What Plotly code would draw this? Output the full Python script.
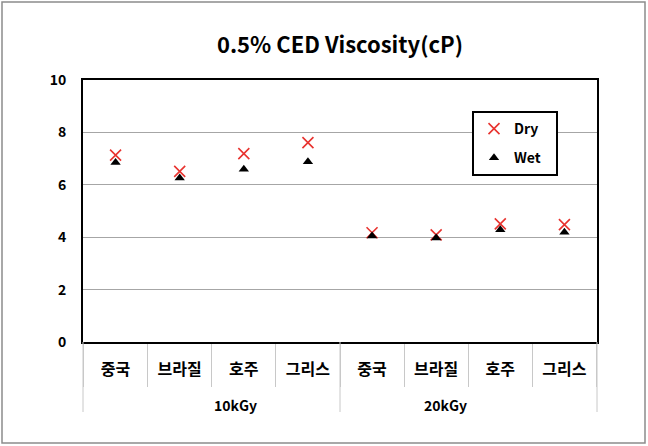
import plotly.graph_objects as go

group_names = ["10kGy", "20kGy"]
origin_names = ["중국", "브라질", "호주", "그리스"]
groups = [g for g in group_names for _ in origin_names]
origins = origin_names * len(group_names)
dry = [7.13, 6.51, 7.19, 7.61, 4.17, 4.09, 4.51, 4.48]
wet = [6.85, 6.26, 6.59, 6.88, 4.05, 3.97, 4.28, 4.19]
y_ticks = [0, 2, 4, 6, 8, 10]

cats = [f"{g}|{o}" for g, o in zip(groups, origins)]

W, H = 648, 446
L, R, T, B = 83, 51, 80, 104
pw, ph = W - L - R, H - T - B

font = "Noto Sans CJK KR"
sep_color = "#C8C8C8"
pad = "&nbsp;" * 3

fig = go.Figure()
fig.add_trace(go.Scatter(
    x=cats, y=dry, mode="markers", name="Dry" + pad, legendgroup="a",
    marker=dict(symbol="x-thin-open", size=11, color="#E8332F",
                line=dict(color="#E8332F", width=1.6)),
))
fig.add_trace(go.Scatter(
    x=cats, y=wet, mode="markers", name="Wet" + pad, legendgroup="b",
    marker=dict(symbol="triangle-up", size=9, color="black"),
))

# outer chart border
fig.add_shape(type="rect", xref="paper", yref="paper",
              x0=(2 - L) / pw, x1=(645 - L) / pw,
              y0=(H - 443 - B) / ph, y1=(H - 2 - B) / ph,
              line=dict(color="#8C8C8C", width=1.5), layer="below")

# group dividers and group labels
n_g = len(group_names)
for i in range(n_g + 1):
    xp = i / n_g
    fig.add_shape(type="line", xref="paper", yref="paper",
                  x0=xp, x1=xp, y0=0, y1=-(412 - (H - B)) / ph,
                  line=dict(color=sep_color, width=1))
for i, g in enumerate(group_names):
    fig.add_annotation(xref="paper", yref="paper", x=(i + 0.5) / n_g,
                       y=-(405 - (H - B)) / ph, yanchor="middle",
                       text=g, showarrow=False,
                       font=dict(size=14, family=font, color="black", weight="bold"))

fig.update_layout(
    width=W, height=H,
    margin=dict(l=L, r=R, t=T, b=B),
    paper_bgcolor="white", plot_bgcolor="white",
    font=dict(family=font, color="black"),
    title=dict(text="0.5% CED Viscosity(cP)", x=340 / W, xanchor="center",
               y=1 - 45 / H, yanchor="middle",
               font=dict(size=22, family=font, weight="bold")),
    showlegend=True,
    legend=dict(x=(472 - L) / pw, y=(342 - 111) / ph, xanchor="left", yanchor="top",
                bgcolor="white", bordercolor="black", borderwidth=2,
                font=dict(size=14, family=font, weight="bold"),
                itemsizing="trace", tracegroupgap=8),
    xaxis=dict(type="category", categoryorder="array", categoryarray=cats,
               tickvals=cats, ticktext=origins,
               showline=True, mirror=True,
               linecolor="black", linewidth=2, showgrid=False,
               ticks="outside", ticklen=43, tickcolor=sep_color, tickwidth=1,
               tickson="boundaries", ticklabelstandoff=12,
               tickfont=dict(size=16, family=font, color="black", weight="bold"),
               zeroline=False),
    yaxis=dict(range=[0, 10], tickvals=y_ticks, showline=True, mirror=True,
               linecolor="black", linewidth=2, showgrid=True,
               gridcolor="#A6A6A6", gridwidth=1, zeroline=False,
               ticks="", ticklabelstandoff=12,
               tickfont=dict(size=14, family=font, color="black", weight="bold")),
)

fig.write_html("out.html")
